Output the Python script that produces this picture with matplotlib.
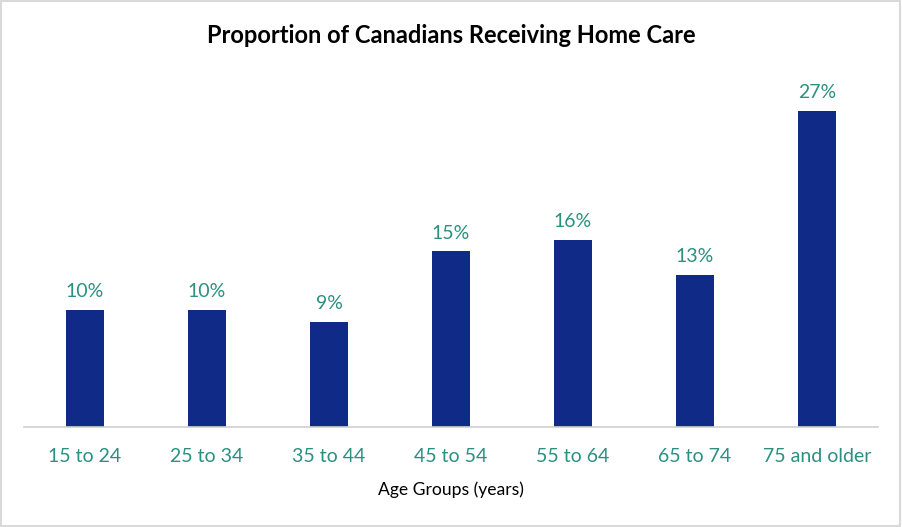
import matplotlib.pyplot as plt
import numpy as np

# data
age_groups = ["15 to 24", "25 to 34", "35 to 44", "45 to 54", "55 to 64", "65 to 74", "75 and older"]
percent = [10, 10, 9, 15, 16, 13, 27]

bar_color = "#102A88"
teal = "#2A9080"

plt.rcParams['font.family'] = ['Lato', 'DejaVu Sans']

fig = plt.figure(figsize=(9.02, 5.27), dpi=100)
ax = fig.add_axes([0.0266, 0.1898, 0.9468, 0.666])

x = np.arange(len(age_groups))
bars = ax.bar(x, percent, width=0.31, color=bar_color)

for xi, v in zip(x, percent):
    ax.annotate(f"{v}%", (xi, v), xytext=(0, 7), textcoords="offset points",
                ha="center", va="bottom", color=teal, fontsize=14)

ax.set_xlim(-0.5, len(age_groups) - 0.5)
ax.set_ylim(0, 30)
ax.set_yticks([])
ax.set_xticks(x)
ax.set_xticklabels(age_groups, color=teal, fontsize=14)
ax.tick_params(axis="x", length=0, pad=15)
for s in ["top", "right", "left"]:
    ax.spines[s].set_visible(False)
ax.spines["bottom"].set_color("#d0d0d0")
ax.spines["bottom"].set_linewidth(1.2)

ax.set_xlabel("Age Groups (years)", fontsize=12.6, labelpad=12)
fig.text(0.5, 0.933, "Proportion of Canadians Receiving Home Care",
         ha="center", va="center", fontsize=17, fontweight="bold")

# thin grey frame around the chart
fig.patches.append(plt.Rectangle((0.001, 0.002), 0.997, 0.996, transform=fig.transFigure,
                                 fill=False, edgecolor="#d9d9d9", linewidth=1.5))

fig.savefig("out.png", dpi=100)
